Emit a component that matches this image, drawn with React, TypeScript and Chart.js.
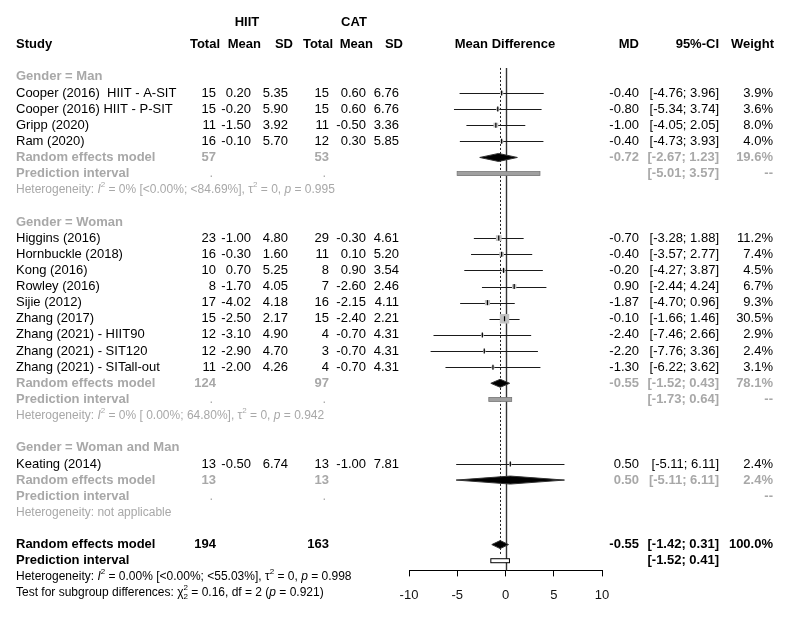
import React, { useEffect, useRef } from 'react';
import { Chart, registerables } from 'chart.js';

Chart.register(...registerables);

const FAMILY = '"Liberation Sans", Arial, Helvetica, sans-serif';

// ---------- data ----------
const groupNames = ['Gender = Man', 'Gender = Woman', 'Gender = Woman and Man'];

const studyLabels = [
  'Cooper (2016)  HIIT - A-SIT',
  'Cooper (2016) HIIT - P-SIT',
  'Gripp (2020)',
  'Ram (2020)',
  'Higgins (2016)',
  'Hornbuckle (2018)',
  'Kong (2016)',
  'Rowley (2016)',
  'Sijie (2012)',
  'Zhang (2017)',
  'Zhang (2021) - HIIT90',
  'Zhang (2021) - SIT120',
  'Zhang (2021) - SITall-out',
  'Keating (2014)',
];
const studyGroup = [0, 0, 0, 0, 1, 1, 1, 1, 1, 1, 1, 1, 1, 2];
const hiitTotal = [15, 15, 11, 16, 23, 16, 10, 8, 17, 15, 12, 12, 11, 13];
const hiitMean = [0.2, -0.2, -1.5, -0.1, -1.0, -0.3, 0.7, -1.7, -4.02, -2.5, -3.1, -2.9, -2.0, -0.5];
const hiitSD = [5.35, 5.9, 3.92, 5.7, 4.8, 1.6, 5.25, 4.05, 4.18, 2.17, 4.9, 4.7, 4.26, 6.74];
const catTotal = [15, 15, 11, 12, 29, 11, 8, 7, 16, 15, 4, 3, 4, 13];
const catMean = [0.6, 0.6, -0.5, 0.3, -0.3, 0.1, 0.9, -2.6, -2.15, -2.4, -0.7, -0.7, -0.7, -1.0];
const catSD = [6.76, 6.76, 3.36, 5.85, 4.61, 5.2, 3.54, 2.46, 4.11, 2.21, 4.31, 4.31, 4.31, 7.81];
const mdValues = [-0.4, -0.8, -1.0, -0.4, -0.7, -0.4, -0.2, 0.9, -1.87, -0.1, -2.4, -2.2, -1.3, 0.5];
const ciLower = [-4.76, -5.34, -4.05, -4.73, -3.28, -3.57, -4.27, -2.44, -4.7, -1.66, -7.46, -7.76, -6.22, -5.11];
const ciUpper = [3.96, 3.74, 2.05, 3.93, 1.88, 2.77, 3.87, 4.24, 0.96, 1.46, 2.66, 3.36, 3.62, 6.11];
const weights = [3.9, 3.6, 8.0, 4.0, 11.2, 7.4, 4.5, 6.7, 9.3, 30.5, 2.9, 2.4, 3.1, 2.4];

const groupHiitTotal = [57, 124, 13];
const groupCatTotal = [53, 97, 13];
const groupMD = [-0.72, -0.55, 0.5];
const groupLower = [-2.67, -1.52, -5.11];
const groupUpper = [1.23, 0.43, 6.11];
const groupWeight = [19.6, 78.1, 2.4];
const groupPiLower: (number | null)[] = [-5.01, -1.73, null];
const groupPiUpper: (number | null)[] = [3.57, 0.64, null];
const groupI2: (string | null)[] = ['0%', '0%', null];
const groupI2CI: (string | null)[] = ['[<0.00%; <84.69%]', '[ 0.00%; 64.80%]', null];
const groupTau2: (string | null)[] = ['0', '0', null];
const groupP: (string | null)[] = ['0.995', '0.942', null];

const overallHiitTotal = 194;
const overallCatTotal = 163;
const overallMD = -0.55;
const overallLower = -1.42;
const overallUpper = 0.31;
const overallPiLower = -1.52;
const overallPiUpper = 0.41;
const overallI2 = '0.00%';
const overallI2CI = '[<0.00%; <55.03%]';
const overallTau2 = '0';
const overallP = '0.998';
const subgroupChi2 = '0.16';
const subgroupDf = 2;
const subgroupP = '0.921';

const xTicks = [-10, -5, 0, 5, 10];

// ---------- row layout (row indices) ----------
const studyRow: number[] = [];
const groupHeaderRow: number[] = [];
const groupREMRow: number[] = [];
const groupPIRow: number[] = [];
const groupHetRow: number[] = [];
let rr = 0;
groupNames.forEach((_, g) => {
  groupHeaderRow[g] = rr;
  rr++;
  studyGroup.forEach((sg, i) => {
    if (sg === g) {
      studyRow[i] = rr;
      rr++;
    }
  });
  groupREMRow[g] = rr++;
  groupPIRow[g] = rr++;
  groupHetRow[g] = rr++;
  rr++;
});
const overallREMRow = rr++;
const overallPIRow = rr++;
const overallHetRow = rr++;
const testRow = rr++;

const GRAY = '#a8a8a8';

type Seg = { t: string; it?: boolean; sup?: boolean; supsub?: string };

function drawRich(ctx: CanvasRenderingContext2D, segs: Seg[], x: number, y: number, size: number, color: string) {
  let cx = x;
  ctx.fillStyle = color;
  ctx.textAlign = 'left';
  ctx.textBaseline = 'middle';
  for (const s of segs) {
    if (s.sup || s.supsub) {
      const fs = Math.round(size * 0.7);
      ctx.font = `${fs}px ${FAMILY}`;
      ctx.fillText(s.t, cx, y - size * 0.4);
      let w = ctx.measureText(s.t).width;
      if (s.supsub) {
        ctx.fillText(s.supsub, cx, y + size * 0.35);
        w = Math.max(w, ctx.measureText(s.supsub).width);
      }
      cx += w;
    } else {
      ctx.font = `${s.it ? 'italic ' : ''}${size}px ${FAMILY}`;
      ctx.fillText(s.t, cx, y);
      cx += ctx.measureText(s.t).width;
    }
  }
}

function hetSegs(i2: string, ci: string, tau2: string, p: string): Seg[] {
  return [
    { t: 'Heterogeneity: ' },
    { t: 'I', it: true },
    { t: '2', sup: true },
    { t: ` = ${i2} ${ci}, ` },
    { t: 'τ' },
    { t: '2', sup: true },
    { t: ` = ${tau2}, ` },
    { t: 'p', it: true },
    { t: ` = ${p}` },
  ];
}

const f2 = (v: number) => v.toFixed(2);
const ciText = (lo: number, hi: number) => `[${f2(lo)}; ${f2(hi)}]`;

const forestPlugin = {
  id: 'forest',
  beforeDatasetsDraw(chart: any) {
    const ctx: CanvasRenderingContext2D = chart.ctx;
    const xs = chart.scales.x;
    const ys = chart.scales.y;
    const X = (v: number) => xs.getPixelForValue(v);
    const Y = (r: number) => ys.getPixelForValue(r);
    ctx.save();
    const topY = Y(-0.55);
    ctx.strokeStyle = '#333';
    ctx.lineWidth = 1.4;
    ctx.beginPath();
    ctx.moveTo(Math.round(X(0)) + 0.5, topY);
    ctx.lineTo(Math.round(X(0)) + 0.5, chart.chartArea.bottom);
    ctx.stroke();
    ctx.strokeStyle = '#222';
    ctx.lineWidth = 1;
    ctx.setLineDash([2, 2]);
    ctx.beginPath();
    ctx.moveTo(Math.round(X(overallMD)) + 0.5, topY);
    ctx.lineTo(Math.round(X(overallMD)) + 0.5, Y(overallPIRow - 0.3));
    ctx.stroke();
    ctx.setLineDash([]);
    ctx.strokeStyle = '#1a1a1a';
    ctx.lineWidth = 1;
    studyRow.forEach((r, i) => {
      const y = Math.round(Y(r)) + 0.5;
      ctx.beginPath();
      ctx.moveTo(X(ciLower[i]), y);
      ctx.lineTo(X(ciUpper[i]), y);
      ctx.stroke();
    });
    ctx.restore();
  },
  afterDatasetsDraw(chart: any) {
    const ctx: CanvasRenderingContext2D = chart.ctx;
    const xs = chart.scales.x;
    const ys = chart.scales.y;
    const X = (v: number) => xs.getPixelForValue(v);
    const Y = (r: number) => ys.getPixelForValue(r);
    ctx.save();
    ctx.strokeStyle = '#000';
    ctx.lineWidth = 1.2;
    studyRow.forEach((r, i) => {
      const y = Y(r);
      const x = X(mdValues[i]);
      ctx.beginPath();
      ctx.moveTo(x, y - 2.5);
      ctx.lineTo(x, y + 2.5);
      ctx.stroke();
    });
    const diamond = (lo: number, md: number, hi: number, r: number, h: number) => {
      const y = Y(r);
      ctx.beginPath();
      ctx.moveTo(X(lo), y);
      ctx.lineTo(X(md), y - h);
      ctx.lineTo(X(hi), y);
      ctx.lineTo(X(md), y + h);
      ctx.closePath();
      ctx.fillStyle = '#000';
      ctx.fill();
      ctx.strokeStyle = '#333';
      ctx.lineWidth = 1;
      ctx.stroke();
    };
    groupNames.forEach((_, g) => {
      diamond(groupLower[g], groupMD[g], groupUpper[g], groupREMRow[g], 4);
      const lo = groupPiLower[g];
      const hi = groupPiUpper[g];
      if (lo !== null && hi !== null) {
        const y = Y(groupPIRow[g]);
        ctx.fillStyle = '#a0a0a0';
        ctx.fillRect(X(lo), y - 2, X(hi) - X(lo), 4);
        ctx.strokeStyle = '#777';
        ctx.lineWidth = 0.8;
        ctx.strokeRect(X(lo), y - 2, X(hi) - X(lo), 4);
      }
    });
    diamond(overallLower, overallMD, overallUpper, overallREMRow, 4);
    {
      const y = Y(overallPIRow);
      ctx.fillStyle = '#fff';
      ctx.fillRect(X(overallPiLower), y - 2, X(overallPiUpper) - X(overallPiLower), 4);
      ctx.strokeStyle = '#000';
      ctx.lineWidth = 1;
      ctx.strokeRect(X(overallPiLower), y - 2, X(overallPiUpper) - X(overallPiLower), 4);
    }
    ctx.restore();
  },
  afterDraw(chart: any) {
    const ctx: CanvasRenderingContext2D = chart.ctx;
    const ys = chart.scales.y;
    const Y = (r: number) => ys.getPixelForValue(r);
    ctx.save();
    ctx.textBaseline = 'middle';
    const txt = (s: string, x: number, r: number, align: CanvasTextAlign, color = '#000', bold = false, size = 13) => {
      ctx.font = `${bold ? 'bold ' : ''}${size}px ${FAMILY}`;
      ctx.fillStyle = color;
      ctx.textAlign = align;
      ctx.fillText(s, x, Y(r));
    };
    const cStudy = 16, cHT = 216, cHM = 251, cHS = 288, cCT = 329, cCM = 366, cCS = 399;
    const cMD = 639, cCI = 719, cW = 773;
    txt('HIIT', 247, -3.38, 'center', '#000', true);
    txt('CAT', 354, -3.38, 'center', '#000', true);
    txt('Study', cStudy, -2, 'left', '#000', true);
    txt('Total', 220, -2, 'right', '#000', true);
    txt('Mean', 261, -2, 'right', '#000', true);
    txt('SD', 293, -2, 'right', '#000', true);
    txt('Total', 333, -2, 'right', '#000', true);
    txt('Mean', 373, -2, 'right', '#000', true);
    txt('SD', 403, -2, 'right', '#000', true);
    txt('Mean Difference', 505, -2, 'center', '#000', true);
    txt('MD', 639, -2, 'right', '#000', true);
    txt('95%-CI', 719, -2, 'right', '#000', true);
    txt('Weight', 774, -2, 'right', '#000', true);
    studyRow.forEach((r, i) => {
      txt(studyLabels[i], cStudy, r, 'left');
      txt(String(hiitTotal[i]), cHT, r, 'right');
      txt(f2(hiitMean[i]), cHM, r, 'right');
      txt(f2(hiitSD[i]), cHS, r, 'right');
      txt(String(catTotal[i]), cCT, r, 'right');
      txt(f2(catMean[i]), cCM, r, 'right');
      txt(f2(catSD[i]), cCS, r, 'right');
      txt(f2(mdValues[i]), cMD, r, 'right');
      txt(ciText(ciLower[i], ciUpper[i]), cCI, r, 'right');
      txt(`${weights[i].toFixed(1)}%`, cW, r, 'right');
    });
    groupNames.forEach((name, g) => {
      txt(name, cStudy, groupHeaderRow[g], 'left', GRAY, true);
      txt('Random effects model', cStudy, groupREMRow[g], 'left', GRAY, true);
      txt(String(groupHiitTotal[g]), cHT, groupREMRow[g], 'right', GRAY, true);
      txt(String(groupCatTotal[g]), cCT, groupREMRow[g], 'right', GRAY, true);
      txt(f2(groupMD[g]), cMD, groupREMRow[g], 'right', GRAY, true);
      txt(ciText(groupLower[g], groupUpper[g]), cCI, groupREMRow[g], 'right', GRAY, true);
      txt(`${groupWeight[g].toFixed(1)}%`, cW, groupREMRow[g], 'right', GRAY, true);
      txt('Prediction interval', cStudy, groupPIRow[g], 'left', GRAY, true);
      txt('.', cHT - 3, groupPIRow[g], 'right', GRAY);
      txt('.', cCT - 3, groupPIRow[g], 'right', GRAY);
      const lo = groupPiLower[g];
      const hi = groupPiUpper[g];
      if (lo !== null && hi !== null) {
        txt(ciText(lo, hi), cCI, groupPIRow[g], 'right', GRAY, true);
      }
      txt('--', cW, groupPIRow[g], 'right', GRAY, true);
      const i2 = groupI2[g];
      if (i2 !== null) {
        drawRich(ctx, hetSegs(i2, groupI2CI[g] as string, groupTau2[g] as string, groupP[g] as string), cStudy, Y(groupHetRow[g]), 12, GRAY);
      } else {
        drawRich(ctx, [{ t: 'Heterogeneity: not applicable' }], cStudy, Y(groupHetRow[g]), 12, GRAY);
      }
    });
    txt('Random effects model', cStudy, overallREMRow, 'left', '#000', true);
    txt(String(overallHiitTotal), cHT, overallREMRow, 'right', '#000', true);
    txt(String(overallCatTotal), cCT, overallREMRow, 'right', '#000', true);
    txt(f2(overallMD), cMD, overallREMRow, 'right', '#000', true);
    txt(ciText(overallLower, overallUpper), cCI, overallREMRow, 'right', '#000', true);
    txt('100.0%', cW, overallREMRow, 'right', '#000', true);
    txt('Prediction interval', cStudy, overallPIRow, 'left', '#000', true);
    txt(ciText(overallPiLower, overallPiUpper), cCI, overallPIRow, 'right', '#000', true);
    drawRich(ctx, hetSegs(overallI2, overallI2CI, overallTau2, overallP), cStudy, Y(overallHetRow), 12, '#000');
    drawRich(
      ctx,
      [
        { t: 'Test for subgroup differences: ' },
        { t: 'χ' },
        { t: '2', supsub: String(subgroupDf) },
        { t: ` = ${subgroupChi2}, df = ${subgroupDf} (` },
        { t: 'p', it: true },
        { t: ` = ${subgroupP})` },
      ],
      cStudy,
      Y(testRow),
      12,
      '#000'
    );
    ctx.restore();
  },
};

export default function App() {
  const ref = useRef<HTMLCanvasElement | null>(null);
  useEffect(() => {
    document.body.style.margin = '0';
    const canvas = ref.current;
    if (!canvas) return;
    const chart = new Chart(canvas, {
      type: 'scatter',
      data: {
        datasets: [
          {
            data: studyRow.map((r, i) => ({ x: mdValues[i], y: r })),
            pointStyle: 'rect',
            pointRadius: weights.map((w) => (1.7 * Math.sqrt(w)) / Math.SQRT2),
            backgroundColor: '#c2c2c2',
            borderWidth: 0,
          },
        ],
      },
      options: {
        responsive: false,
        animation: false,
        events: [],
        layout: { padding: { left: 409, right: 187, top: 0, bottom: 3 } },
        plugins: { legend: { display: false }, tooltip: { enabled: false } },
        scales: {
          x: {
            type: 'linear',
            min: -10,
            max: 10,
            afterBuildTicks: (s: any) => {
              s.ticks = xTicks.map((v) => ({ value: v }));
            },
            ticks: { color: '#111', font: { family: FAMILY, size: 13 }, padding: 11 },
            grid: { display: true, drawOnChartArea: false, drawTicks: true, tickLength: 6, color: '#000' },
            border: { display: true, color: '#000', width: 1 },
          },
          y: { type: 'linear', display: false, reverse: true, min: -4.35, max: 30.6 },
        },
      },
      plugins: [forestPlugin],
    } as any);
    return () => chart.destroy();
  }, []);
  return (
    <div style={{ width: 789, height: 617 }}>
      <canvas ref={ref} width={789} height={617} style={{ display: 'block' }} />
    </div>
  );
}
